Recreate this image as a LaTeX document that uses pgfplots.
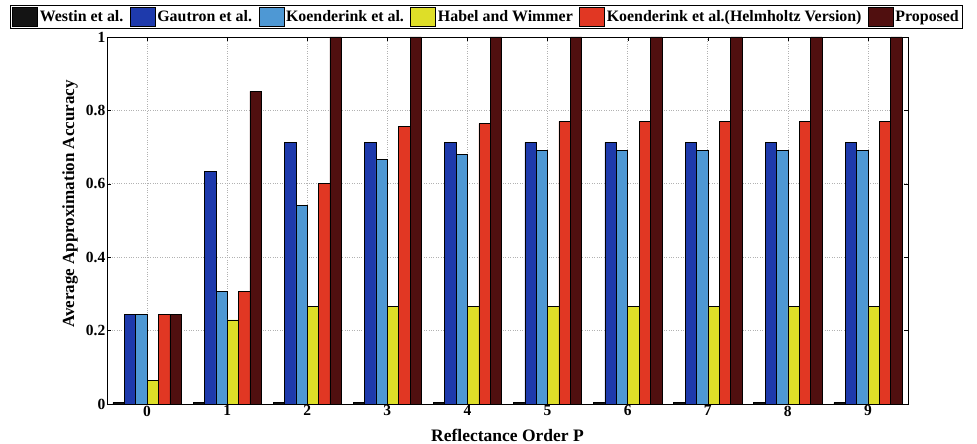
\documentclass[border=0pt]{standalone}
\usepackage{pgfplots}
\pgfplotsset{compat=1.18}
\usepackage{fontspec}
\setmainfont{Liberation Serif}
\definecolor{cWestin}{RGB}{20,20,20}
\definecolor{cGautron}{RGB}{30,58,172}
\definecolor{cKoend}{RGB}{78,152,212}
\definecolor{cHabel}{RGB}{222,222,40}
\definecolor{cHelm}{RGB}{225,55,35}
\definecolor{cProp}{RGB}{80,15,15}
\begin{document}
\begin{tikzpicture}[x=1pt,y=1pt]
\useasboundingbox (0,0) rectangle (977,444);
\begin{axis}[
  at={(107pt,40pt)}, anchor=south west,
  scale only axis, width=801pt, height=367pt,
  ybar=0pt, bar width=0.142,
  xmin=-0.5, xmax=9.5, ymin=0, ymax=1,
  xtick={0,1,2,3,4,5,6,7,8,9},
  ytick={0,0.2,0.4,0.6,0.8,1},
  yticklabels={0,0.2,0.4,0.6,0.8,1},
  tick align=inside, major tick length=4pt,
  tick style={black},
  grid=major, major grid style={dotted, gray!60, line width=0.6pt},
  axis line style={black, line width=0.8pt},
  /pgf/number format/assume math mode=true,
  ticklabel style={font=\fontsize{15.5}{16}\selectfont\bfseries},
  yticklabel style={inner sep=1.5pt},
  xticklabel style={inner sep=1.5pt},
  xlabel={Reflectance Order P},
  ylabel={Average Approximation Accuracy},
  every axis x label/.style={at={(rel axis cs:0.5,0)}, yshift=-31pt, anchor=center,
    font=\fontsize{17.5}{18}\selectfont\bfseries},
  every axis y label/.style={at={(rel axis cs:0,0.545)}, xshift=-37pt, rotate=90, anchor=center,
    font=\fontsize{17}{18}\selectfont\bfseries},
  legend columns=6,
  legend style={at={(rel axis cs:-0.1211,1.0872)}, anchor=north west,
    font=\fontsize{15.9}{17}\selectfont\bfseries, draw=black, line width=0.8pt,
    inner xsep=2pt, inner ysep=2pt,
    /tikz/every even column/.append style={column sep=4.5pt},
    nodes={inner sep=2pt}},
  legend image code/.code={\draw[#1, draw=black, line width=0.5pt] (0pt,-9.5pt) rectangle (25pt,9.5pt);},
  every axis plot/.append style={draw=black, line width=0.5pt},
]
\addplot[fill=cWestin] coordinates {(0,0.004) (1,0.004) (2,0.004) (3,0.004) (4,0.004) (5,0.004) (6,0.004) (7,0.004) (8,0.004) (9,0.004)};
\addplot[fill=cGautron] coordinates {(0,0.245) (1,0.633) (2,0.713) (3,0.713) (4,0.713) (5,0.713) (6,0.713) (7,0.713) (8,0.713) (9,0.713)};
\addplot[fill=cKoend] coordinates {(0,0.245) (1,0.306) (2,0.541) (3,0.667) (4,0.680) (5,0.691) (6,0.691) (7,0.691) (8,0.691) (9,0.691)};
\addplot[fill=cHabel] coordinates {(0,0.065) (1,0.229) (2,0.267) (3,0.267) (4,0.267) (5,0.267) (6,0.267) (7,0.267) (8,0.267) (9,0.267)};
\addplot[fill=cHelm] coordinates {(0,0.245) (1,0.306) (2,0.602) (3,0.756) (4,0.764) (5,0.770) (6,0.770) (7,0.770) (8,0.770) (9,0.770)};
\addplot[fill=cProp] coordinates {(0,0.245) (1,0.852) (2,1) (3,1) (4,1) (5,1) (6,1) (7,1) (8,1) (9,1)};
\legend{Westin et al., Gautron et al., Koenderink et al., Habel and Wimmer, Koenderink et al.(Helmholtz Version), Proposed}
\end{axis}
\end{tikzpicture}
\end{document}
